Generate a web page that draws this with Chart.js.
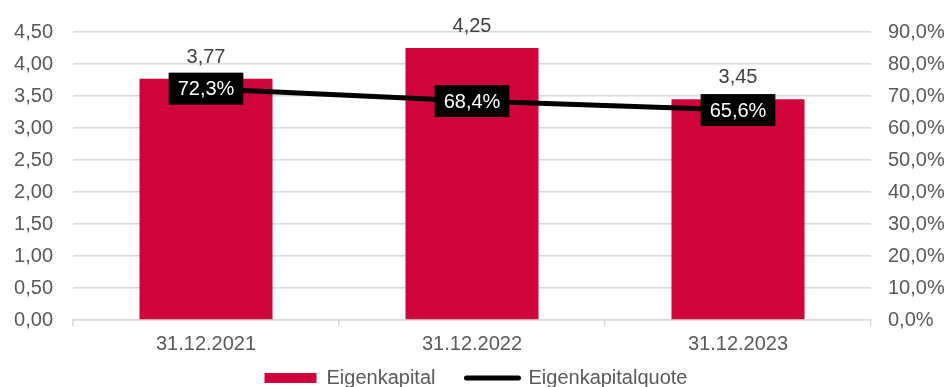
<!DOCTYPE html>
<html>
<head>
<meta charset="utf-8">
<script src="https://cdn.jsdelivr.net/npm/chart.js@4"></script>
<style>
  html, body { margin: 0; padding: 0; background: #fff; }
  .wrap { width: 952px; height: 387px; overflow: hidden; }
  canvas { display: block; }
</style>
</head>
<body>
<div class="wrap">
  <canvas id="ekChart" width="952" height="398"></canvas>
</div>
<script>
// values
const categories = ['31.12.2021', '31.12.2022', '31.12.2023'];
const eigenkapital = [3.77, 4.25, 3.45];
const eigenkapitalquote = [72.3, 68.4, 65.6];
const leftTickLabels = ['0,00', '0,50', '1,00', '1,50', '2,00', '2,50', '3,00', '3,50', '4,00', '4,50'];
const rightTickLabels = ['0,0%', '10,0%', '20,0%', '30,0%', '40,0%', '50,0%', '60,0%', '70,0%', '80,0%', '90,0%'];

const RED = '#d0033b';
const GREY_TEXT = '#595959';
const GRID = '#dadada';
const FONT = "'Liberation Sans', Arial, sans-serif";

Chart.defaults.font.family = FONT;
Chart.defaults.font.size = 20;
Chart.defaults.color = GREY_TEXT;

const de = (v, d) => v.toFixed(d).replace('.', ',');

// x axis is kept short for the layout so the legend sits close;
// widen its box again afterwards so the category labels are not clipped
const xLabelRoom = {
  id: 'xLabelRoom',
  afterLayout(chart) {
    const x = chart.scales.x;
    x.bottom = x.top + 40;
    x.height = 40;
  }
};

// value labels: plain text above bars, black boxes on the line
const valueLabels = {
  id: 'valueLabels',
  afterDatasetsDraw(chart) {
    const ctx = chart.ctx;
    ctx.save();
    ctx.font = '20px ' + FONT;
    ctx.textAlign = 'center';

    chart.getDatasetMeta(0).data.forEach((bar, i) => {
      ctx.fillStyle = '#404040';
      ctx.textBaseline = 'alphabetic';
      ctx.fillText(de(eigenkapital[i], 2), bar.x, bar.y - 16);
    });

    chart.getDatasetMeta(1).data.forEach((pt, i) => {
      const txt = de(eigenkapitalquote[i], 1) + '%';
      const w = ctx.measureText(txt).width + 18;
      const h = 32;
      ctx.fillStyle = '#000';
      ctx.fillRect(pt.x - w / 2, pt.y - h / 2, w, h);
      ctx.fillStyle = '#fff';
      ctx.textBaseline = 'middle';
      ctx.fillText(txt, pt.x, pt.y + 1);
    });
    ctx.restore();
  }
};

new Chart(document.getElementById('ekChart'), {
  type: 'bar',
  data: {
    labels: categories,
    datasets: [
      {
        label: 'Eigenkapital',
        data: eigenkapital,
        backgroundColor: RED,
        borderWidth: 0,
        barPercentage: 0.5,
        categoryPercentage: 1.0,
        yAxisID: 'y',
        order: 2
      },
      {
        type: 'line',
        label: 'Eigenkapitalquote',
        data: eigenkapitalquote,
        borderColor: '#000',
        backgroundColor: '#000',
        borderWidth: 5,
        pointRadius: 0,
        pointHoverRadius: 0,
        tension: 0,
        yAxisID: 'y1',
        order: 1
      }
    ]
  },
  options: {
    responsive: false,
    animation: false,
    devicePixelRatio: 1,
    layout: { padding: { top: 28, left: 0, right: 0, bottom: 0 } },
    plugins: {
      tooltip: { enabled: false },
      legend: {
        position: 'bottom',
        labels: {
          usePointStyle: true,
          pointStyleWidth: 52,
          boxHeight: 10,
          padding: 31,
          color: GREY_TEXT,
          font: { size: 20 },
          generateLabels: (chart) => chart.data.datasets.map((ds, i) => ({
            text: ds.label,
            fillStyle: i === 0 ? RED : '#000',
            strokeStyle: '#000',
            lineWidth: i === 0 ? 0 : 5,
            lineCap: 'round',
            pointStyle: i === 0 ? 'rect' : 'line',
            fontColor: GREY_TEXT,
            hidden: false,
            datasetIndex: i
          }))
        }
      }
    },
    scales: {
      x: {
        grid: {
          offset: true,
          drawOnChartArea: false,
          drawTicks: true,
          tickLength: 6,
          color: GRID,
          lineWidth: 1.5
        },
        border: { display: true, color: GRID, width: 1.5 },
        ticks: { padding: 6, color: GREY_TEXT, font: { size: 20 } },
        afterFit: (scale) => { scale.height = 17; }
      },
      y: {
        position: 'left',
        min: 0,
        max: 4.5,
        ticks: {
          stepSize: 0.5,
          padding: 20,
          color: GREY_TEXT,
          font: { size: 20 },
          callback: (v, i) => leftTickLabels[i]
        },
        grid: { color: GRID, lineWidth: 1.5, drawTicks: false },
        border: { display: false },
        afterFit: (scale) => { scale.width = 73; }
      },
      y1: {
        position: 'right',
        min: 0,
        max: 90,
        ticks: {
          stepSize: 10,
          padding: 17,
          color: GREY_TEXT,
          font: { size: 20 },
          callback: (v, i) => rightTickLabels[i]
        },
        grid: { drawOnChartArea: false, drawTicks: false },
        border: { display: false },
        afterFit: (scale) => { scale.width = 81; }
      }
    }
  },
  plugins: [xLabelRoom, valueLabels]
});
</script>
</body>
</html>
